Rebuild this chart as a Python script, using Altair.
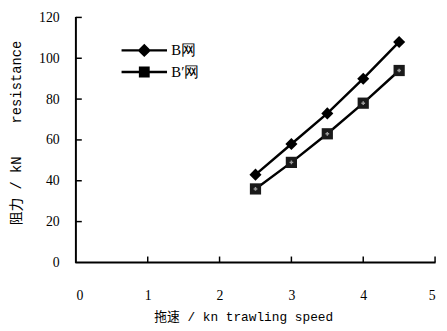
import altair as alt
import pandas as pd

speed = [2.5, 3.0, 3.5, 4.0, 4.5]
b_net = [43, 58, 73, 90, 108]
b2_net = [36, 49, 63, 78, 94]
series_names = ["B网", "B′网"]
x_ticks = [0, 1, 2, 3, 4, 5]
y_ticks = [0, 20, 40, 60, 80, 100, 120]

rows = []
for s, v in zip(speed, b_net):
    rows.append({"speed": s, "res": v, "series": series_names[0]})
for s, v in zip(speed, b2_net):
    rows.append({"speed": s, "res": v, "series": series_names[1]})
df = pd.DataFrame(rows)

W, H = 365, 249
serif = "Liberation Serif"
mono = "Liberation Mono, Noto Sans CJK SC"

xs = alt.Scale(domain=[0, 5], nice=False)
ys = alt.Scale(domain=[0, 120], nice=False)

xenc = alt.X("speed:Q", scale=xs,
             axis=alt.Axis(values=x_ticks, format="d", ticks=False, grid=False, domain=False,
                           labelPadding=27, labelFont=serif, labelFontSize=14,
                           labelColor="black",
                           title="拖速 / kn trawling speed", titleFont=mono,
                           titleFontSize=13, titleFontWeight="normal",
                           titlePadding=8, titleColor="black", titleX=170, titleAlign="center"))
yenc = alt.Y("res:Q", scale=ys,
             axis=alt.Axis(values=y_ticks, format="d", ticks=False, grid=False, domain=False,
                           labelPadding=17, labelFont=serif, labelFontSize=14,
                           labelColor="black",
                           title="阻力 / kN\u00a0\u00a0\u00a0\u00a0resistance", titleFont=mono,
                           titleFontSize=14, titleFontWeight="normal",
                           titlePadding=15, titleColor="black", titleY=117))

base = alt.Chart(df)

lines = base.mark_line(color="black", strokeWidth=2.5).encode(
    x=xenc, y=yenc, detail="series:N")

pts_b = base.transform_filter(alt.datum.series == series_names[0]).mark_point(
    shape="diamond", filled=True, opacity=1, size=150, color="black").encode(
    x="speed:Q", y="res:Q")
pts_b2 = base.transform_filter(alt.datum.series == series_names[1]).mark_point(
    shape="square", filled=True, opacity=1, size=130, color="#1a1a1a").encode(
    x="speed:Q", y="res:Q")
dots = base.transform_filter(alt.datum.series == series_names[1]).mark_point(
    shape="cross", filled=True, size=14, color="#9a9a9a", opacity=1).encode(
    x="speed:Q", y="res:Q")

diamond_path = "M-2.1,-0.11H2.1V0.11H-2.1Z M-0.62,0L0,-0.62L0.62,0L0,0.62Z"
square_path = "M-2.1,-0.11H2.1V0.11H-2.1Z M-0.5,-0.5H0.5V0.5H-0.5Z"

legend_layer = base.mark_point(filled=True, opacity=0, color="black").encode(
    x="speed:Q", y="res:Q",
    shape=alt.Shape("series:N", scale=alt.Scale(domain=series_names, range=[diamond_path, square_path]),
                    legend=alt.Legend(title=None, orient="none", legendX=58, legendY=22,
                                      symbolSize=484, symbolStrokeWidth=0.5,
                                      symbolFillColor="black", symbolStrokeColor="black",
                                      symbolOpacity=1, labelFont=serif, labelFontSize=15,
                                      labelColor="black", labelOffset=16, rowPadding=2,
                                      padding=0)),
)

# axis lines and inward ticks drawn as tick (rect) marks
axis_y = alt.Chart(pd.DataFrame({"v": [x_ticks[0]]})).mark_tick(
    orient="vertical", size=H + 1, thickness=2, color="black", opacity=1).encode(
    x=alt.X("v:Q", scale=xs), y=alt.value(H / 2))
axis_x = alt.Chart(pd.DataFrame({"v": [y_ticks[0]]})).mark_tick(
    orient="horizontal", size=W + 1, thickness=2, color="black", opacity=1).encode(
    y=alt.Y("v:Q", scale=ys), x=alt.value(W / 2))
yt = alt.Chart(pd.DataFrame({"v": y_ticks[1:]})).mark_tick(
    orient="horizontal", size=6, thickness=1.5, color="black", opacity=1).encode(
    y=alt.Y("v:Q", scale=ys), x=alt.value(3))
xt = alt.Chart(pd.DataFrame({"v": x_ticks[1:]})).mark_tick(
    orient="vertical", size=6, thickness=1.5, color="black", opacity=1).encode(
    x=alt.X("v:Q", scale=xs), y=alt.value(H - 3))

chart = alt.layer(lines, pts_b, pts_b2, dots, legend_layer, axis_y, axis_x, yt, xt).properties(
    width=W, height=H,
    background="white",
    autosize=alt.AutoSizeParams(type="none"),
    padding={"left": 69, "top": 7, "right": 4, "bottom": 60},
).configure_view(stroke=None)

chart.save("out.html", embed_options={"renderer": "svg", "actions": False})
